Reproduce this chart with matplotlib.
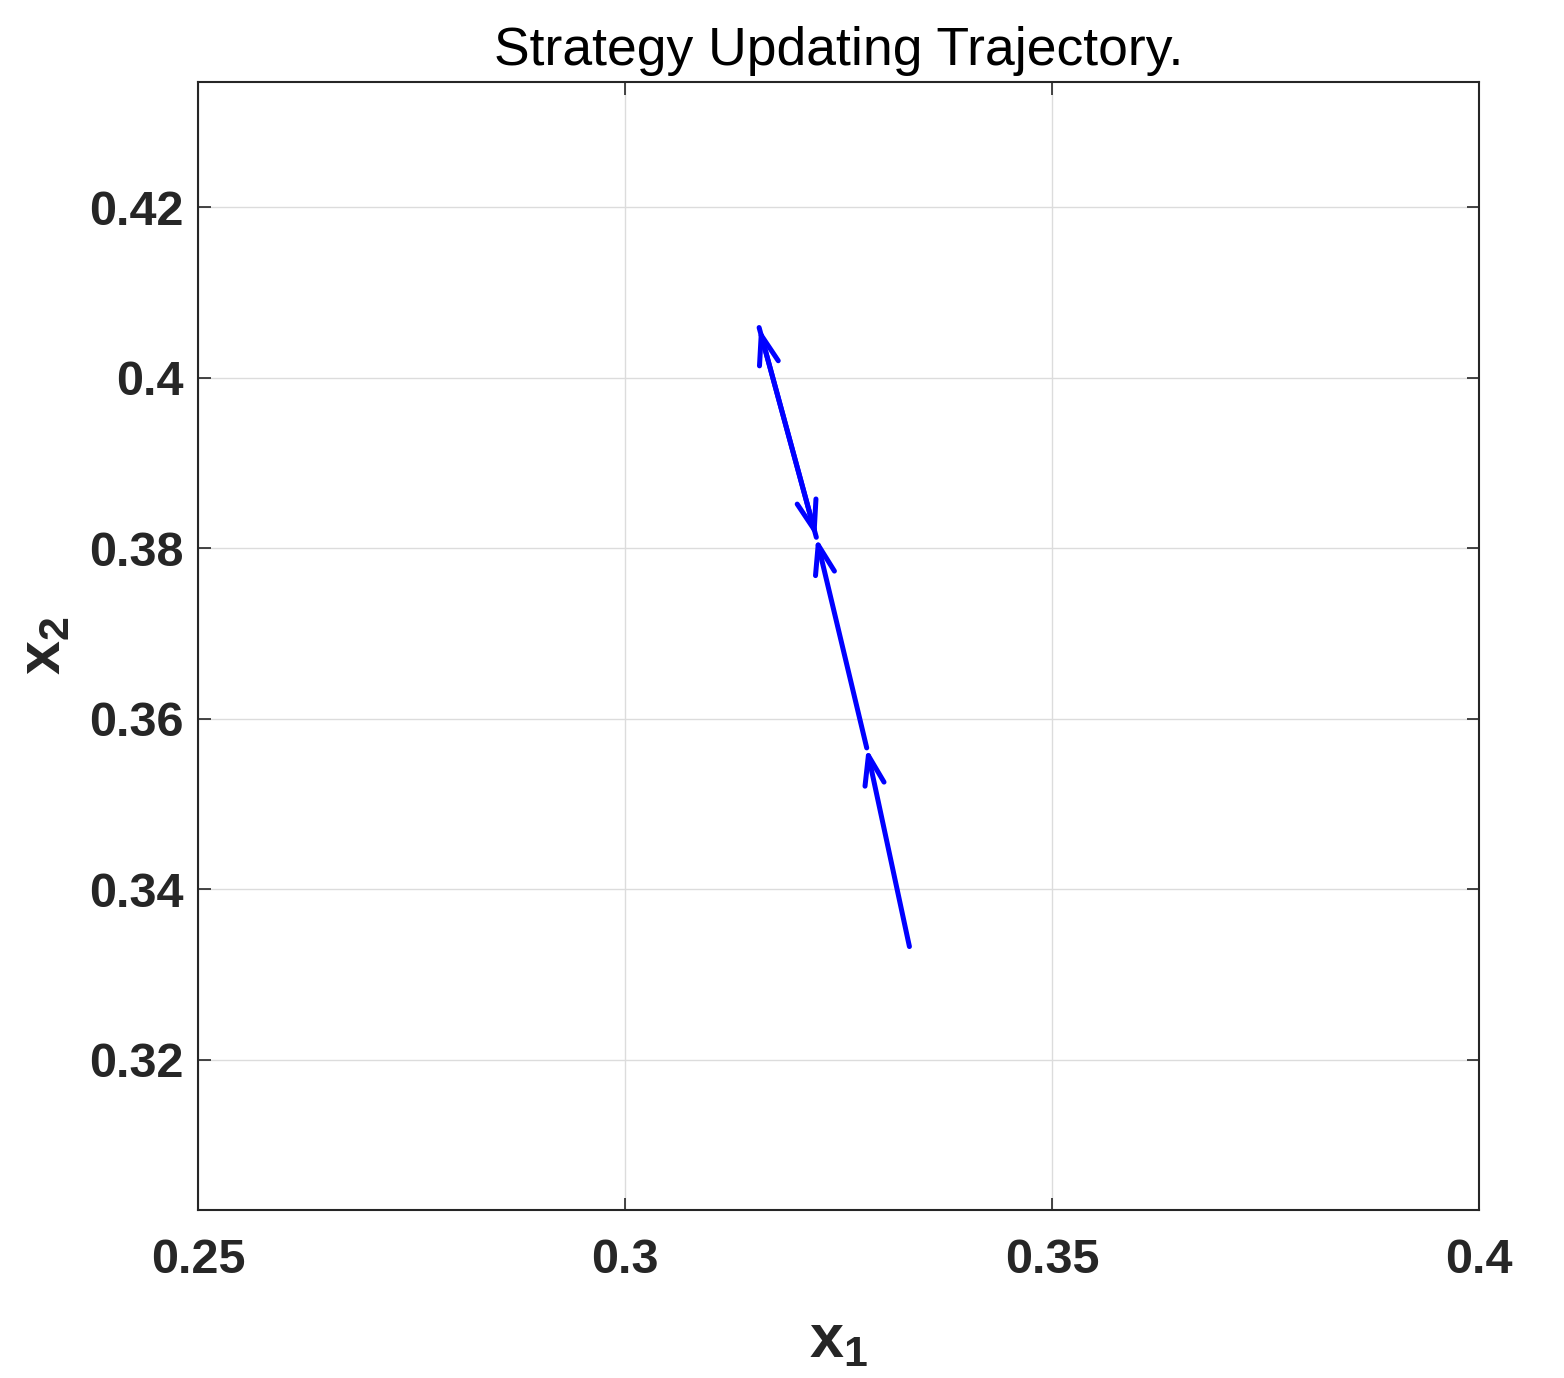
import matplotlib.pyplot as plt

plt.rcParams['font.family'] = ['Liberation Sans', 'DejaVu Sans']
plt.rcParams['mathtext.fontset'] = 'custom'
plt.rcParams['mathtext.rm'] = 'Liberation Sans'
plt.rcParams['mathtext.bf'] = 'Liberation Sans:bold'

# Trajectory points (x1, x2)
x1 = [0.3333, 0.3283, 0.3224, 0.3157, 0.3224]
x2 = [0.3333, 0.3566, 0.3813, 0.4059, 0.3813]

x_ticks = [0.25, 0.3, 0.35, 0.4]
x_tick_labels = ["0.25", "0.3", "0.35", "0.4"]
y_ticks = [0.32, 0.34, 0.36, 0.38, 0.40, 0.42]
y_tick_labels = ["0.32", "0.34", "0.36", "0.38", "0.4", "0.42"]

fig = plt.figure(figsize=(15.64, 13.78), dpi=100)
ax = fig.add_axes([0.1266, 0.1219, 0.8191, 0.8186])

# Arrows from each point to the next
for i in range(len(x1) - 1):
    ax.annotate("", xy=(x1[i + 1], x2[i + 1]), xytext=(x1[i], x2[i]),
                arrowprops=dict(arrowstyle="->,head_length=1.05,head_width=0.35",
                                color="#0000ff", lw=3.6, mutation_scale=20,
                                shrinkA=0, shrinkB=0))

ax.set_xlim(0.25, 0.4)
ax.set_ylim(0.3024, 0.4347)
ax.set_xticks(x_ticks)
ax.set_xticklabels(x_tick_labels)
ax.set_yticks(y_ticks)
ax.set_yticklabels(y_tick_labels)

ax.grid(True, color="#dcdcdc", linewidth=1)
ax.set_axisbelow(True)
ax.tick_params(direction="in", length=9, width=1.2, top=True, right=True,
               colors="#262626", labelsize=35)
ax.tick_params(axis="x", pad=20)
ax.tick_params(axis="y", pad=10)
for lab in ax.get_xticklabels() + ax.get_yticklabels():
    lab.set_fontweight("bold")
for sp in ax.spines.values():
    sp.set_color("#262626")
    sp.set_linewidth(1.5)

ax.set_xlabel(r"$\mathbf{x_1}$", fontsize=44, color="#262626", labelpad=22)
ax.set_ylabel(r"$\mathbf{x_2}$", fontsize=44, color="#262626", labelpad=12)
ax.set_title("Strategy Updating Trajectory.", fontsize=38.5, pad=12)

plt.savefig("out.png", dpi=100)
